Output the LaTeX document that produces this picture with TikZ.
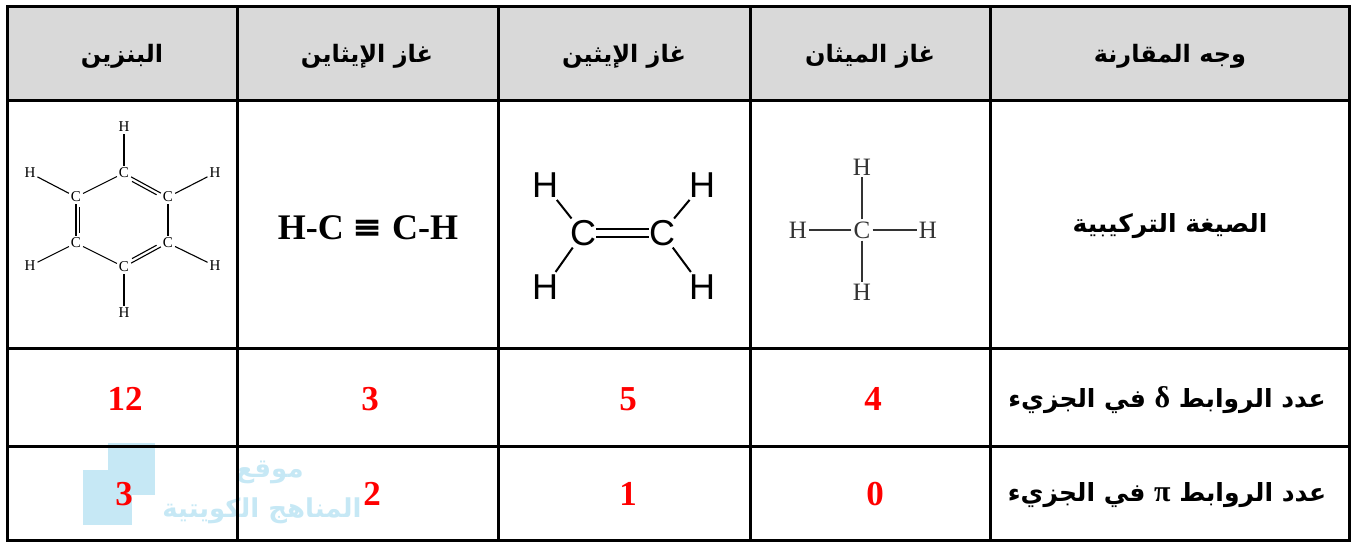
\documentclass[tikz,border=0pt]{standalone}
\usepackage{fontspec}
\TeXXeTstate=1
\newfontfamily\arabicfont[Script=Arabic]{DejaVu Sans}
\newfontfamily\timesf{Liberation Serif}
\newfontfamily\arialf{Liberation Sans}
\newfontfamily\symf{DejaVu Serif}
\definecolor{headgray}{HTML}{D9D9D9}
\definecolor{numred}{HTML}{FF0000}
\definecolor{wmblue}{HTML}{C6E8F5}
\definecolor{bondgray}{HTML}{333333}
\begin{document}
\begin{tikzpicture}[x=1pt,y=-1pt,
  grid/.style={line width=3pt,black},
  head/.style={font=\arabicfont\bfseries\fontsize{24}{28}\selectfont},
  rowlab/.style={font=\arabicfont\bfseries\fontsize{25}{28}\selectfont},
  num/.style={font=\timesf\bfseries\fontsize{35}{38}\selectfont,text=numred},
  bz/.style={font=\timesf\fontsize{15}{17}\selectfont,inner sep=1pt},
  bzbond/.style={line width=1.1pt,shorten <=1pt,shorten >=1pt},
  eth/.style={font=\arialf\fontsize{36}{40}\selectfont,inner sep=0pt},
  ethbond/.style={line width=2pt},
  me/.style={font=\timesf\fontsize{25}{28}\selectfont,text=bondgray,inner sep=1pt},
  mebond/.style={line width=1.2pt,bondgray,shorten <=1pt,shorten >=1pt},
  wm/.style={font=\arabicfont\bfseries\fontsize{26}{30}\selectfont,text=wmblue}
]
\useasboundingbox (0,0) rectangle (1355,543);
% header fill
\fill[headgray] (7,7) rectangle (1349,100);
% watermark
\fill[wmblue] (108,443) rectangle (155,495);
\fill[wmblue] (83,470) rectangle (132,525);
\node[wm] (wm1) at (270,472) {\beginR موقع\endR};
\node[wm] (wm2) at (262,511) {\beginR المناهج الكويتية\endR};
% grid
\draw[grid] (7,7) rectangle (1349,540);
\foreach \yy in {100,348,446} \draw[grid] (7,\yy) -- (1349,\yy);
\foreach \xx in {237,498,750,990} \draw[grid] (\xx,7) -- (\xx,540);
% headers
\node[head] (h1) at (122,56) {\beginR البنزين\endR};
\node[head] (h2) at (367,56) {\beginR غاز الإيثاين\endR};
\node[head] (h3) at (624,56) {\beginR غاز الإيثين\endR};
\node[head] (h4) at (870,56) {\beginR غاز الميثان\endR};
\node[head] (h5) at (1170,56) {\beginR وجه المقارنة\endR};
% row labels
\node[rowlab] (r2) at (1170,226) {\beginR الصيغة التركيبية\endR};
\node[rowlab] (r3) at (1167,400) {\beginR عدد الروابط {\timesf\bfseries\fontsize{30}{30}\selectfont δ} في الجزيء\endR};
\node[rowlab] (r4) at (1167,495) {\beginR عدد الروابط {\timesf\bfseries\fontsize{30}{30}\selectfont π} في الجزيء\endR};
% numbers
\node[num] (n31) at (125,399) {12};
\node[num] (n32) at (370,399) {3};
\node[num] (n33) at (628,399) {5};
\node[num] (n34) at (873,399) {4};
\node[num] (n41) at (124,494) {3};
\node[num] (n42) at (372,494) {2};
\node[num] (n43) at (628,494) {1};
\node[num] (n44) at (875,494) {0};
% acetylene
\node[font=\timesf\bfseries\fontsize{36}{40}\selectfont] (acet) at (368,228) {H-C {\symf\bfseries ≡} C-H};
% benzene
\node[bz] (bc1) at (124,173) {C};
\node[bz] (bc2) at (168,197) {C};
\node[bz] (bc3) at (168,243) {C};
\node[bz] (bc4) at (124,267) {C};
\node[bz] (bc5) at (76,243) {C};
\node[bz] (bc6) at (76,197) {C};
\node[bz] (bh1) at (124,127) {H};
\node[bz] (bh2) at (215,173) {H};
\node[bz] (bh3) at (215,266) {H};
\node[bz] (bh4) at (124,313) {H};
\node[bz] (bh5) at (30,266) {H};
\node[bz] (bh6) at (30,173) {H};
\draw[bzbond] (bc1) -- (bc2);
\draw[bzbond] (bc2) -- (bc3);
\draw[bzbond] (bc3) -- (bc4);
\draw[bzbond] (bc4) -- (bc5);
\draw[bzbond] (bc5) -- (bc6);
\draw[bzbond] (bc6) -- (bc1);
\draw[bzbond,shorten <=4pt,shorten >=4pt,transform canvas={shift={(-1.7pt,-3.1pt)}}] (bc1) -- (bc2);
\draw[bzbond,shorten <=4pt,shorten >=4pt,transform canvas={shift={(3.5pt,0pt)}}] (bc5) -- (bc6);
\draw[bzbond,shorten <=4pt,shorten >=4pt,transform canvas={shift={(-1.7pt,3.1pt)}}] (bc4) -- (bc3);
\foreach \i in {1,...,6} \draw[bzbond] (bc\i) -- (bh\i);
% ethylene
\node[eth] (ec1) at (583,233) {C};
\node[eth] (ec2) at (662,233) {C};
\node[eth] (eh1) at (545,185) {H};
\node[eth] (eh2) at (702,185) {H};
\node[eth] (eh3) at (545,287) {H};
\node[eth] (eh4) at (702,287) {H};
\draw[ethbond,transform canvas={shift={(0pt,4pt)}}] (ec1) -- (ec2);
\draw[ethbond,transform canvas={shift={(0pt,-4pt)}}] (ec1) -- (ec2);
\draw[ethbond,shorten <=3pt,shorten >=2pt] (eh1) -- (ec1);
\draw[ethbond,shorten <=3pt,shorten >=2pt] (eh3) -- (ec1);
\draw[ethbond,shorten <=3pt,shorten >=2pt] (eh2) -- (ec2);
\draw[ethbond,shorten <=3pt,shorten >=2pt] (eh4) -- (ec2);
% methane
\node[me] (mc) at (862,230) {C};
\node[me] (mh1) at (862,167) {H};
\node[me] (mh2) at (798,230) {H};
\node[me] (mh3) at (928,230) {H};
\node[me] (mh4) at (862,292) {H};
\foreach \i in {1,...,4} \draw[mebond] (mc) -- (mh\i);
\end{tikzpicture}
\end{document}
